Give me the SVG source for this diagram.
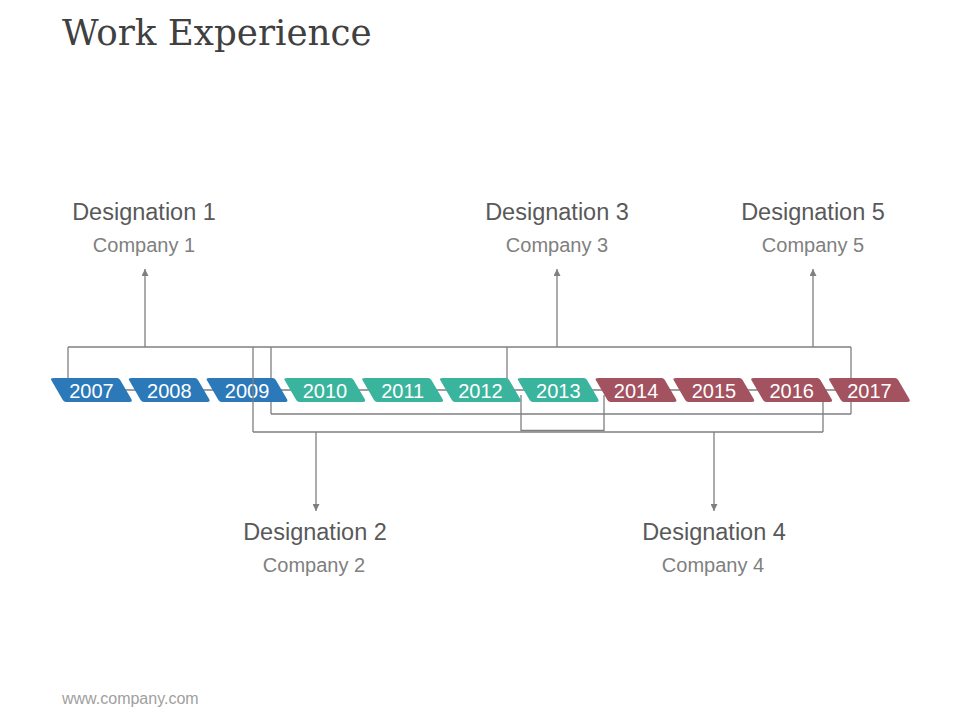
<svg xmlns="http://www.w3.org/2000/svg" xmlns:xlink="http://www.w3.org/1999/xlink" width="960" height="720" viewBox="0 0 960 720">
  <style>
    .ln { stroke: #7f7f7f; stroke-width: 1.3; fill: none; }
    .yr { font-family: "Liberation Sans", Arial, sans-serif; font-size: 20px; fill: #ffffff; text-anchor: middle; }
    .des { font-family: "Liberation Sans", Arial, sans-serif; font-size: 23.5px; fill: #595959; text-anchor: middle; }
    .com { font-family: "Liberation Sans", Arial, sans-serif; font-size: 20px; fill: #808080; text-anchor: middle; }
    .blue { fill: #2b79b9; }
    .teal { fill: #3ab49d; }
    .red { fill: #a3525f; }
  </style>
  <defs>
    <path id="tab" d="M4,0 H67 Q69,0 70.2,2 L81.3,21.1 Q83,24 79.5,24 H16 Q14,24 12.8,22 L1.2,2 Q0,0 4,0 Z"/>
    <marker id="arr" viewBox="0 0 10 10" refX="10" refY="5" markerWidth="7" markerHeight="7" markerUnits="userSpaceOnUse" orient="auto">
      <path d="M0,0 L10,5 L0,10 Z" fill="#7f7f7f"/>
    </marker>
  </defs>
  <rect width="960" height="720" fill="#ffffff"/>

  <text x="62" y="45" font-family="DejaVu Serif, 'Liberation Serif', serif" font-size="35.7" fill="#404040">Work Experience</text>

  <g id="connectors">
    <line class="ln" x1="58" y1="390" x2="900" y2="390"/>
    <line class="ln" x1="68" y1="347" x2="851" y2="347"/>
    <line class="ln" x1="68" y1="347" x2="68" y2="385"/>
    <line class="ln" x1="145" y1="347" x2="145" y2="269" marker-end="url(#arr)"/>
    <line class="ln" x1="271" y1="347" x2="271" y2="414"/>
    <line class="ln" x1="507" y1="347" x2="507" y2="385"/>
    <line class="ln" x1="557" y1="347" x2="557" y2="269" marker-end="url(#arr)"/>
    <line class="ln" x1="813" y1="347" x2="813" y2="269" marker-end="url(#arr)"/>
    <line class="ln" x1="851" y1="347" x2="851" y2="414"/>
    <line class="ln" x1="271" y1="414" x2="851" y2="414"/>
    <line class="ln" x1="253" y1="432" x2="823" y2="432"/>
    <line class="ln" x1="823" y1="395" x2="823" y2="432"/>
    <polyline class="ln" points="521,395 521,430.5 604,430.5 604,395"/>
    <line class="ln" x1="316" y1="432" x2="316" y2="511" marker-end="url(#arr)"/>
    <line class="ln" x1="714" y1="432" x2="714" y2="511" marker-end="url(#arr)"/>
  </g>

  <g id="tab-2007"><use xlink:href="#tab" class="blue" x="50" y="378"/><text class="yr" x="91.5" y="398">2007</text></g>
  <g id="tab-2008"><use xlink:href="#tab" class="blue" x="127.8" y="378"/><text class="yr" x="169.3" y="398">2008</text></g>
  <g id="tab-2009"><use xlink:href="#tab" class="blue" x="205.6" y="378"/><text class="yr" x="247.1" y="398">2009</text></g>
  <g id="tab-2010"><use xlink:href="#tab" class="teal" x="283.4" y="378"/><text class="yr" x="324.9" y="398">2010</text></g>
  <g id="tab-2011"><use xlink:href="#tab" class="teal" x="361.2" y="378"/><text class="yr" x="402.7" y="398">2011</text></g>
  <g id="tab-2012"><use xlink:href="#tab" class="teal" x="439" y="378"/><text class="yr" x="480.5" y="398">2012</text></g>
  <g id="tab-2013"><use xlink:href="#tab" class="teal" x="516.8" y="378"/><text class="yr" x="558.3" y="398">2013</text></g>
  <g id="tab-2014"><use xlink:href="#tab" class="red" x="594.6" y="378"/><text class="yr" x="636.1" y="398">2014</text></g>
  <g id="tab-2015"><use xlink:href="#tab" class="red" x="672.4" y="378"/><text class="yr" x="713.9" y="398">2015</text></g>
  <g id="tab-2016"><use xlink:href="#tab" class="red" x="750.2" y="378"/><text class="yr" x="791.7" y="398">2016</text></g>
  <g id="tab-2017"><use xlink:href="#tab" class="red" x="828" y="378"/><text class="yr" x="869.5" y="398">2017</text></g>

  <g id="connectors-front">
    <line class="ln" x1="253" y1="347" x2="253" y2="432"/>
  </g>

  <g id="node-d1"><text class="des" x="144" y="220">Designation 1</text><text class="com" x="144" y="252">Company 1</text></g>
  <g id="node-d2"><text class="des" x="315" y="540">Designation 2</text><text class="com" x="314" y="572">Company 2</text></g>
  <g id="node-d3"><text class="des" x="557" y="220">Designation 3</text><text class="com" x="557" y="252">Company 3</text></g>
  <g id="node-d4"><text class="des" x="714" y="540">Designation 4</text><text class="com" x="713" y="572">Company 4</text></g>
  <g id="node-d5"><text class="des" x="813" y="220">Designation 5</text><text class="com" x="813" y="252">Company 5</text></g>

  <text x="62" y="704" font-family="'Liberation Sans', Arial, sans-serif" font-size="16" fill="#a0a0a0">www.company.com</text>
</svg>
